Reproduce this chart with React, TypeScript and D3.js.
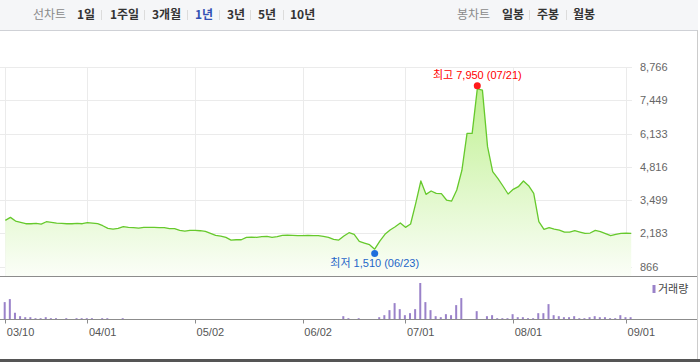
import React from "react";
import * as d3 from "d3";

// ---- data ----
const closes = [
  2698, 2817, 2672, 2619, 2566, 2566, 2580, 2553, 2645, 2619,
  2593, 2580, 2566, 2566, 2580, 2566, 2606, 2593, 2566, 2487,
  2382, 2355, 2382, 2448, 2421, 2408, 2395, 2421, 2421, 2421,
  2408, 2408, 2369, 2369, 2303, 2276, 2303, 2303, 2289, 2263,
  2184, 2105, 2078, 2026, 1920, 1933, 1933, 2026, 2039, 2026,
  2052, 2065, 2026, 2052, 2105, 2118, 2105, 2092, 2092, 2105,
  2092, 2092, 2065, 2026, 1947, 1920, 2080, 2211, 2145, 1868,
  1802, 1736, 1560, 1881, 2145, 2317, 2448, 2594, 2422, 2554,
  3372, 4256, 3728, 3860, 3767, 3754, 3504, 3464, 3899, 4680,
  6140, 6140, 7900, 7850, 5614, 4625, 4361, 4058, 3741, 3926,
  4031, 4256, 4071, 3767, 2646, 2343, 2409, 2356, 2317, 2237,
  2237, 2290, 2237, 2185, 2198, 2303, 2251, 2171, 2092, 2145,
  2185, 2198, 2185,
];

const volumes = [
  173, 203, 67, 33, 23, 23, 13, 13, 23, 13,
  13, 0, 13, 0, 13, 13, 13, 13, 0, 13,
  13, 0, 0, 13, 0, 0, 0, 0, 0, 0,
  0, 0, 0, 0, 0, 0, 0, 0, 0, 0,
  0, 0, 0, 0, 0, 0, 0, 0, 0, 0,
  0, 0, 0, 0, 0, 0, 0, 0, 0, 0,
  0, 0, 0, 0, 0, 0, 33, 13, 0, 13,
  0, 0, 0, 23, 43, 93, 163, 103, 43, 63,
  103, 363, 173, 93, 33, 23, 53, 43, 143, 213,
  0, 0, 83, 0, 33, 43, 13, 13, 13, 53,
  23, 23, 13, 13, 63, 63, 153, 43, 33, 23,
  23, 33, 13, 13, 23, 33, 23, 23, 13, 13,
  43, 23, 23,
];

const xTickIndex = [0, 16, 37, 58, 78, 99, 121];
const xTickLabels = ["03/10", "04/01", "05/02", "06/02", "07/01", "08/01", "09/01"];
const yTicks = [866, 2183, 3499, 4816, 6133, 7449, 8766];

const highPoint = { index: 92, value: 7950, date: "07/21" };
const lowPoint = { index: 72, value: 1510, date: "06/23" };

const periodTabs = ["1일", "1주일", "3개월", "1년", "3년", "5년", "10년"];
const activePeriod = "1년";
const candleTabs = ["일봉", "주봉", "월봉"];

// ---- layout ----
const W = 700;
const H = 362;
const plotLeft = 0;
const plotRight = 632;
const plotTop = 67;
const plotBottom = 276.5;
const volBase = 319.5;
const volTop = 283;
const periodX = [77, 110, 152, 195, 227, 258, 290];
const periodSepX = [101, 144, 187, 219, 250, 283];
const candleX = [502, 537, 573];
const candleSepX = [529, 566];

const FONT = "'Liberation Sans', Arial, 'Noto Sans CJK KR', sans-serif";
const KFONT = "'Noto Sans CJK KR', 'Liberation Sans', sans-serif";

export default function App() {
  const x = d3.scaleLinear().domain([0, closes.length - 1]).range([5.3, 631.2]);
  const y = d3.scaleLinear().domain([866, 8766]).range([266.7, plotTop]);
  const vy = d3.scaleLinear().domain([0, d3.max(volumes) as number]).range([volBase, volTop]);
  const fmt = d3.format(",");

  const line = d3
    .line<number>()
    .x((_, i) => x(i))
    .y((d) => y(d));
  const area = d3
    .area<number>()
    .x((_, i) => x(i))
    .y0(plotBottom)
    .y1((d) => y(d));

  return (
    <svg
      width={W}
      height={H}
      style={{ position: "absolute", left: 0, top: 0, background: "#fff" }}
      fontFamily={FONT}
    >
      <defs>
        <linearGradient id="g" gradientUnits="userSpaceOnUse" x1="0" y1={plotTop} x2="0" y2={plotBottom}>
          <stop offset="0%" stopColor="#b9ef86" />
          <stop offset="100%" stopColor="#fbfef8" />
        </linearGradient>
      </defs>

      {/* header */}
      <rect x={0} y={0} width={698} height={30} fill="#f5f6f8" />
      <line x1={0} x2={698} y1={30.5} y2={30.5} stroke="#cfd1d6" />
      <text x={33} y={19} fontSize={12} fill="#8a8a8a" fontFamily={KFONT}>선차트</text>
      {periodTabs.map((t, i) => (
        <text
          key={t}
          x={periodX[i]}
          y={19}
          fontSize={12}
          fontWeight="bold"
          fill={t === activePeriod ? "#3250b4" : "#333"}
          fontFamily={KFONT}
        >
          {t}
        </text>
      ))}
      {periodSepX.map((sx) => (
        <line key={sx} x1={sx + 0.5} x2={sx + 0.5} y1={10} y2={20} stroke="#dcdcdc" />
      ))}
      <text x={457} y={19} fontSize={12} fill="#8a8a8a" fontFamily={KFONT}>봉차트</text>
      {candleTabs.map((t, i) => (
        <text key={t} x={candleX[i]} y={19} fontSize={12} fontWeight="bold" fill="#333" fontFamily={KFONT}>
          {t}
        </text>
      ))}
      {candleSepX.map((sx) => (
        <line key={sx} x1={sx + 0.5} x2={sx + 0.5} y1={10} y2={20} stroke="#dcdcdc" />
      ))}

      {/* grid */}
      {yTicks.map((v) => (
        <line key={v} x1={plotLeft} x2={plotRight} y1={Math.round(y(v)) + 0.5} y2={Math.round(y(v)) + 0.5} stroke="#ebebeb" />
      ))}
      {xTickIndex.map((ti) => (
        <line key={ti} x1={Math.round(x(ti)) + 0.5} x2={Math.round(x(ti)) + 0.5} y1={plotTop} y2={plotBottom} stroke="#ebebeb" />
      ))}

      {/* price area + line */}
      <path d={area(closes) || ""} fill="url(#g)" />
      <path d={line(closes) || ""} fill="none" stroke="#66c92c" strokeWidth={1.3} strokeLinejoin="round" />

      {/* y labels */}
      {yTicks.map((v) => (
        <text key={v} x={640} y={y(v) + 4} fontSize={11} fill="#666">
          {fmt(v)}
        </text>
      ))}

      {/* high / low markers */}
      <circle cx={x(highPoint.index)} cy={y(highPoint.value) - 2} r={3.5} fill="#ff1a1a" />
      <text x={x(highPoint.index)} y={y(highPoint.value) - 9} textAnchor="middle" fontSize={11} fill="#ff0000">
        <tspan fontFamily={KFONT}>최고</tspan> {fmt(highPoint.value)} ({highPoint.date})
      </text>
      <circle cx={x(lowPoint.index)} cy={y(lowPoint.value) + 3} r={3.5} fill="#1f6fdc" />
      <text x={x(lowPoint.index)} y={y(lowPoint.value) + 17} textAnchor="middle" fontSize={11} fill="#1f66c8">
        <tspan fontFamily={KFONT}>최저</tspan> {fmt(lowPoint.value)} ({lowPoint.date})
      </text>

      {/* panel separator */}
      <line x1={0} x2={697} y1={plotBottom} y2={plotBottom} stroke="#8c8c8c" />

      {/* volume */}
      {volumes.map((v, i) =>
        v > 0 ? (
          <rect key={i} x={x(i) - 1.6} y={vy(v)} width={2} height={volBase - vy(v)} fill="#9a82c9" />
        ) : null
      )}
      <line x1={0} x2={697} y1={volBase} y2={volBase} stroke="#8c8c8c" />
      {xTickIndex.map((ti, k) => (
        <g key={ti}>
          <line x1={Math.round(x(ti)) + 0.5} x2={Math.round(x(ti)) + 0.5} y1={volBase} y2={volBase + 4} stroke="#8c8c8c" />
          <text x={x(ti) + 1.5} y={335.5} fontSize={11} fill="#555">
            {xTickLabels[k]}
          </text>
        </g>
      ))}
      <rect x={652.5} y={285} width={3} height={8} fill="#9a82c9" />
      <text x={658} y={293} fontSize={11} fill="#444" fontFamily={KFONT}>거래량</text>

      {/* frame */}
      <line x1={697.5} x2={697.5} y1={30} y2={H} stroke="#cccccc" />
      <rect x={0} y={359} width={W} height={3} fill="#555" />
    </svg>
  );
}
